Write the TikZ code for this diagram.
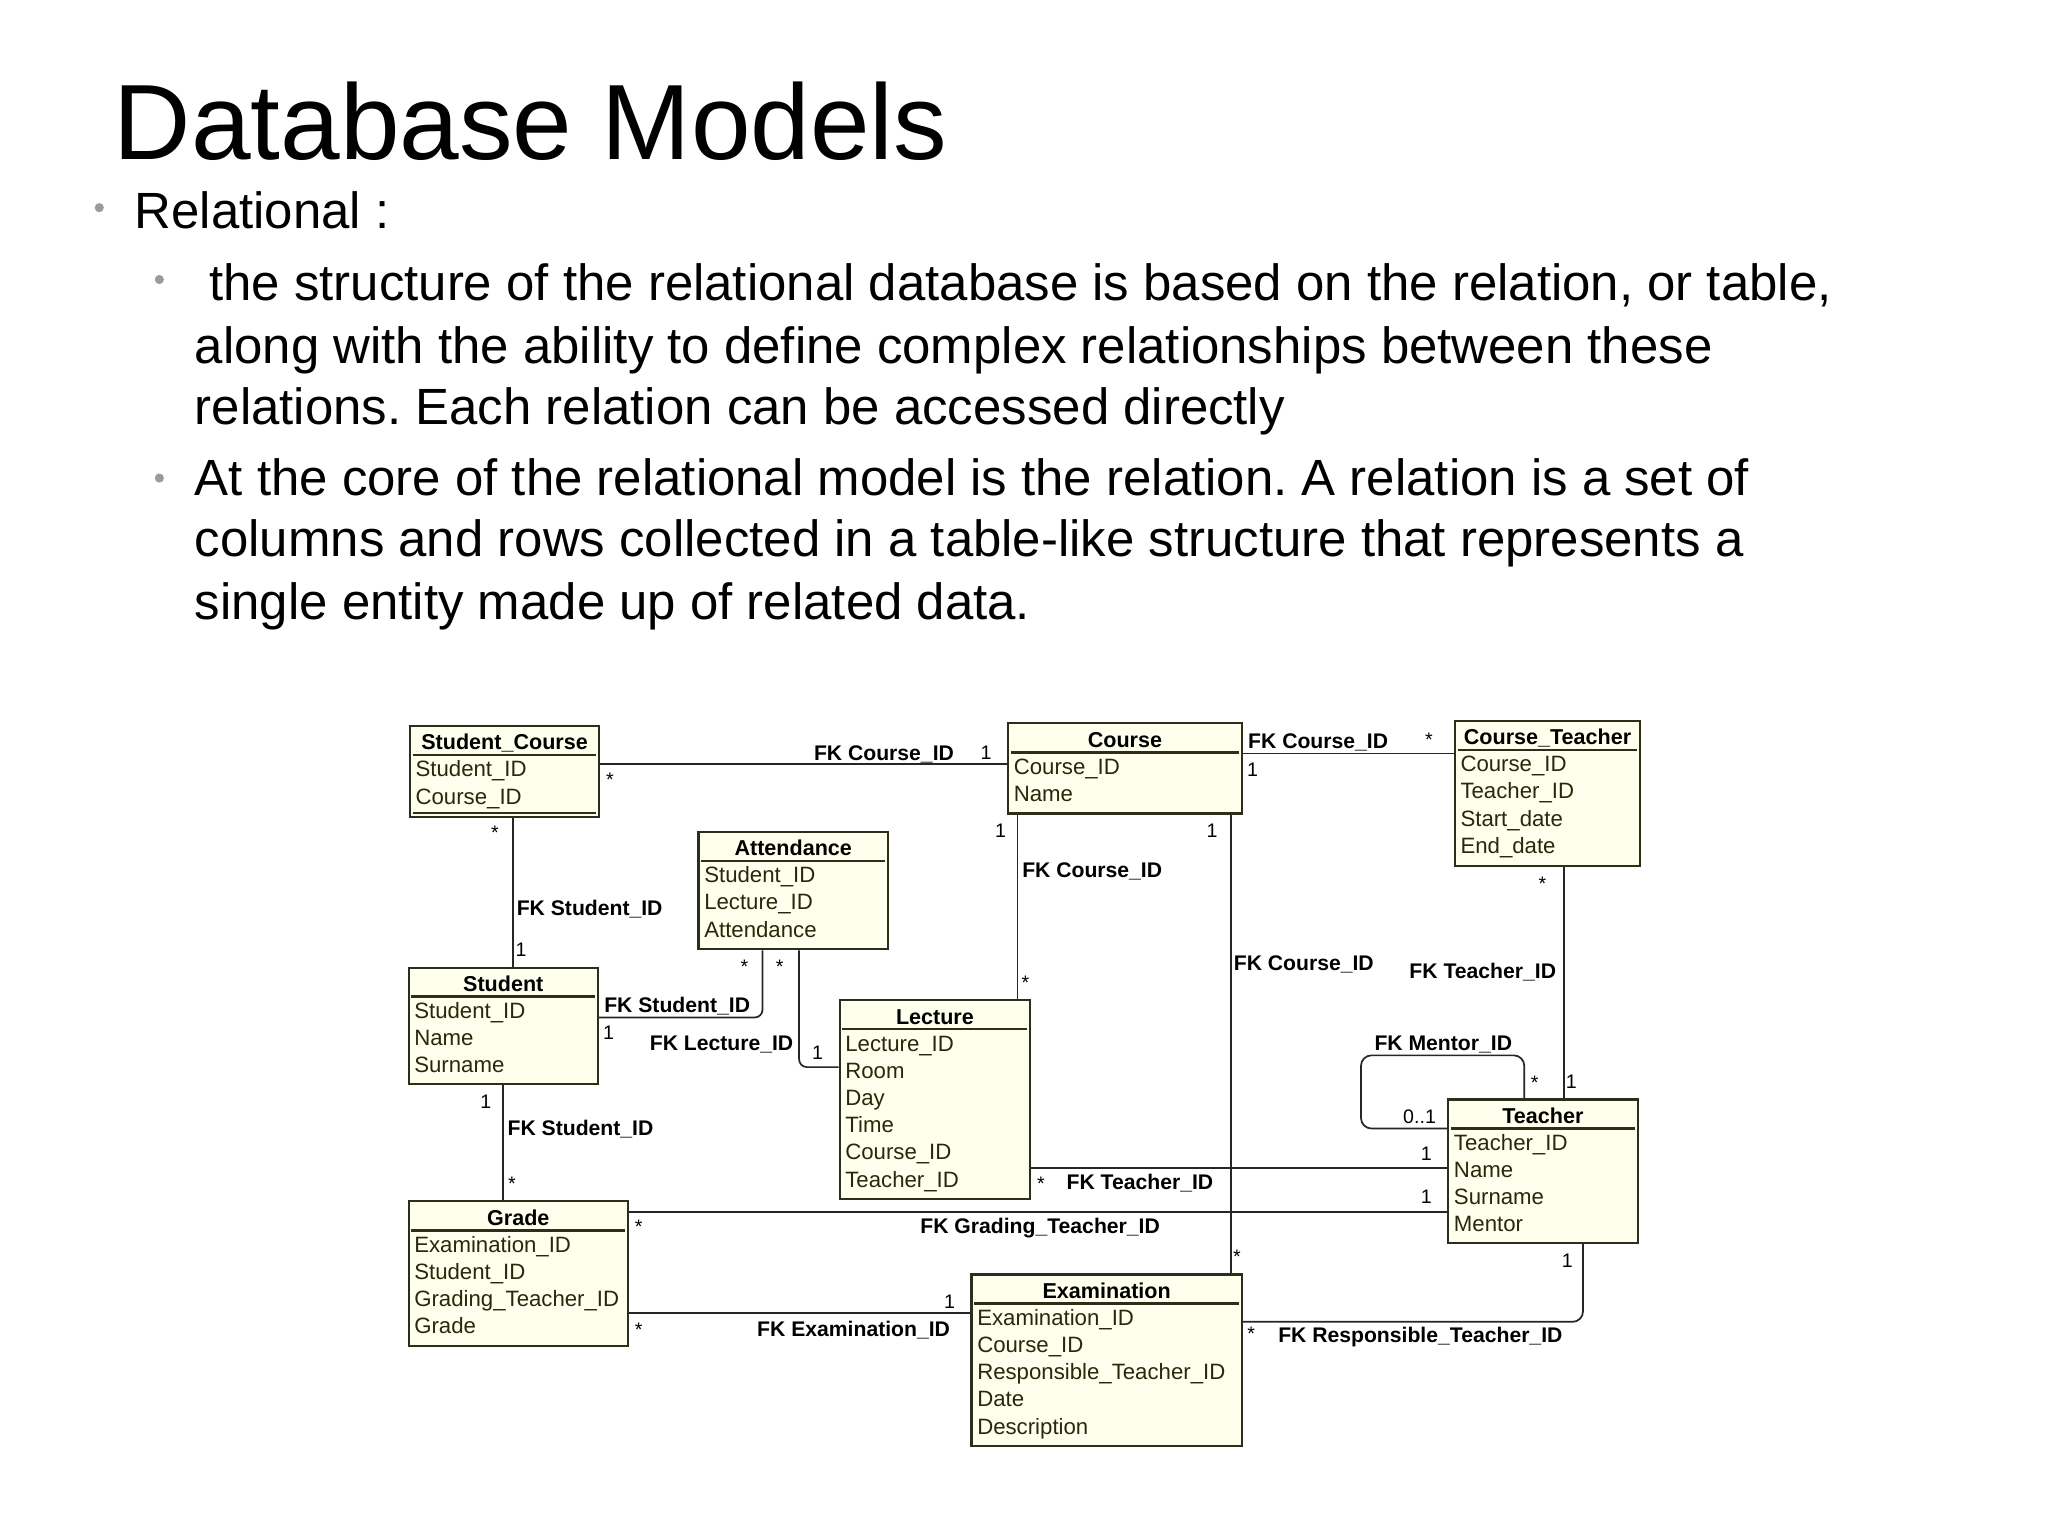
\documentclass[tikz,border=0pt]{standalone}
\usepackage{fontspec}
\setmainfont{Liberation Sans}
\usetikzlibrary{calc}
\frenchspacing

\definecolor{entfill}{RGB}{255,255,238}
\definecolor{entline}{RGB}{45,45,25}
\definecolor{enttext}{RGB}{40,40,10}
\definecolor{bulletgray}{RGB}{150,157,155}

% box with title, rule and attribute rows
\newcommand{\entity}[6]{%
  \node[entity, minimum width=#3pt, minimum height=#4pt] (#1) at (#2) {};
  \node[enttitle] (#1-t) at ($(#1.north)+(0,13)$) {#5};
  \draw[sepline] ($(#1.north west)+(3,23)$) -- ($(#1.north east)+(-3,23)$);
  \foreach \fld [count=\i] in {#6}
    \node[attr] (#1-\i) at ($(#1.north west)+(5,13+20.8*\i)$) {\fld};
}

\begin{document}
\begin{tikzpicture}[x=1pt, y=-1pt,
    entity/.style = {draw=entline, fill=entfill, line width=1.6pt, anchor=north west, inner sep=0pt},
    enttitle/.style = {font=\fontsize{16.5}{18}\selectfont\bfseries, text height=12pt, text depth=0pt, inner sep=0pt},
    attr/.style = {font=\fontsize{17}{19}\selectfont, text=enttext, anchor=west, text height=12pt, text depth=0pt, inner sep=0pt},
    sepline/.style = {draw=entline, line width=1.8pt},
    link/.style = {draw=black!85, line width=1.3pt},
    fk/.style = {font=\fontsize{16.2}{18}\selectfont\bfseries, text height=12pt, text depth=0pt, inner sep=0pt},
    mult/.style = {font=\fontsize{15}{17}\selectfont, text height=11pt, text depth=0pt, inner sep=0pt},
    manymult/.style = {mult, yshift=-3pt},
    heading/.style = {font=\fontsize{82}{90}\selectfont, anchor=base west, inner sep=0pt},
    bodytext/.style = {font=\fontsize{39}{47}\selectfont, anchor=base west, inner sep=0pt},
    dot/.style = {circle, fill=bulletgray, minimum size=7pt, inner sep=0pt}]

  \useasboundingbox[fill=white] (0,0) rectangle (1568,1176);

  % slide text
  \node[heading] (title) at (87,122) {Database Models};
  \node[dot] (d1) at (76,159) {};
  \node[bodytext] (rel) at (103,175) {Relational :};
  \node[dot] (d2) at (122,214) {};
  \node[bodytext] (p1) at (160,230) {the structure of the relational database is based on the relation, or table,};
  \node[bodytext] (p2) at (149,278) {along with the ability to define complex relationships between these};
  \node[bodytext] (p3) at (149,325) {relations. Each relation can be accessed directly};
  \node[dot] (d3) at (122,366) {};
  \node[bodytext] (p4) at (149,379) {At the core of the relational model is the relation. A relation is a set of};
  \node[bodytext] (p5) at (149,426) {columns and rows collected in a table-like structure that represents a};
  \node[bodytext] (p6) at (149,474) {single entity made up of related data.};

  % tables
  \entity{sc}{313,555}{145}{70}{Student\_Course}{Student\_ID,Course\_ID}
  \draw[sepline] ($(sc.south west)+(3,-4)$) -- ($(sc.south east)+(-3,-4)$);
  \entity{course}{771,553}{179}{69}{Course}{Course\_ID,Name}
  \entity{ct}{1113,551}{142}{111}{Course\_Teacher}{Course\_ID,Teacher\_ID,Start\_date,End\_date}
  \entity{att}{534,636}{145}{90}{Attendance}{Student\_ID,Lecture\_ID,Attendance}
  \entity{student}{312,740}{145}{89}{Student}{Student\_ID,Name,Surname}
  \entity{lecture}{642,765}{146}{152}{Lecture}{Lecture\_ID,Room,Day,Time,Course\_ID,Teacher\_ID}
  \entity{teacher}{1108,841}{145}{110}{Teacher}{Teacher\_ID,Name,Surname,Mentor}
  \entity{grade}{312,919}{168}{111}{Grade}{Examination\_ID,Student\_ID,Grading\_Teacher\_ID,Grade}
  \entity{exam}{743,975}{207}{131}{Examination}{Examination\_ID,Course\_ID,Responsible\_Teacher\_ID,Date,Description}

  % relationships
  \draw[link] ($(course.north west)+(0,32)$) -- ($(sc.north east)+(0,30)$)
    node[manymult] (m1) at (467,594) {*}
    node[fk, anchor=east] (f1) at (731,576) {FK Course\_ID}
    node[mult] (n1) at (755,576) {1};

  \coordinate (c2) at ($(course.north east)+(0,24)$);
  \draw[link] (c2) -- (c2 -| ct.west)
    node[fk, anchor=west] (f2) at (955,567) {FK Course\_ID}
    node[manymult] (m2) at (1094,563) {*}
    node[mult] (n2) at (959,589) {1};

  \coordinate (c3) at ($(sc.south)+(6.5,0)$);
  \draw[link] (c3) -- (c3 |- student.north)
    node[manymult] (m3) at (379,634) {*}
    node[fk, anchor=west] (f3) at (395,695) {FK Student\_ID}
    node[mult] (n3) at (399,727) {1};

  \draw[link, rounded corners=6pt] ($(att.south)+(-23.5,0)$) |- ($(student.north east)+(0,39)$)
    node[fk, anchor=west] (f4) at (462,769) {FK Student\_ID}
    node[mult] (n4) at (466,790) {1}
    node[manymult] (m4) at (570,737) {*};

  \draw[link, rounded corners=6pt] ($(att.south)+(4.5,0)$) |- ($(lecture.north west)+(0,52)$)
    node[manymult] (m5) at (597,737) {*}
    node[fk, anchor=east] (f5) at (608,798) {FK Lecture\_ID}
    node[mult] (n5) at (626,806) {1};

  \coordinate (c6) at ($(course.south west)+(8,0)$);
  \draw[link] (c6) -- (c6 |- lecture.north)
    node[mult] (n6) at (766,636) {1}
    node[fk, anchor=west] (f6) at (782,666) {FK Course\_ID}
    node[manymult] (m6) at (785,749) {*};

  \coordinate (c7) at ($(course.south east)+(-9,0)$);
  \draw[link] (c7) -- (c7 |- exam.north)
    node[mult] (n7) at (928,636) {1}
    node[fk, anchor=west] (f7) at (944,737) {FK Course\_ID}
    node[manymult] (m7) at (947,959) {*};

  \coordinate (c8) at ($(ct.south east)+(-59,0)$);
  \draw[link] (c8) -- (c8 |- teacher.north)
    node[manymult] (m8) at (1181,673) {*}
    node[fk, anchor=east] (f8) at (1192,743) {FK Teacher\_ID}
    node[mult] (n8) at (1203,828) {1};

  \draw[link, rounded corners=8pt] ($(teacher.north west)+(59,0)$) -- ++(0,-33)
      -| ($(teacher.north west)+(-66,23)$) -- ($(teacher.north west)+(0,23)$)
    node[fk] (f9) at (1105,798) {FK Mentor\_ID}
    node[manymult] (m9) at (1175,826) {*}
    node[mult, anchor=east] (n9) at (1100,855) {0..1};

  \coordinate (c10) at ($(lecture.north east)+(0,129)$);
  \draw[link] (c10) -- (c10 -| teacher.west)
    node[manymult] (m10) at (797,903) {*}
    node[fk, anchor=west] (f10) at (816,905) {FK Teacher\_ID}
    node[mult] (n10) at (1092,883) {1};

  \coordinate (c11) at ($(grade.north east)+(0,9)$);
  \draw[link] (c11) -- (c11 -| teacher.west)
    node[manymult] (m11) at (489,936) {*}
    node[fk, anchor=west] (f11) at (704,938) {FK Grading\_Teacher\_ID}
    node[mult] (n11) at (1092,916) {1};

  \coordinate (c12) at ($(grade.north east)+(0,86)$);
  \draw[link] (c12) -- (c12 -| exam.west)
    node[manymult] (m12) at (489,1015) {*}
    node[fk, anchor=east] (f12) at (728,1017) {FK Examination\_ID}
    node[mult] (n12) at (727,996) {1};

  \draw[link, rounded corners=8pt] ($(exam.north east)+(0,37)$) -| ($(teacher.south west)+(104,0)$)
    node[manymult] (m13) at (958,1018) {*}
    node[fk, anchor=west] (f13) at (978,1022) {FK Responsible\_Teacher\_ID}
    node[mult] (n13) at (1200,965) {1};

  \draw[link] (student.south) -- (student.south |- grade.north)
    node[mult] (n14) at (372,843) {1}
    node[fk, anchor=west] (f14) at (388,863) {FK Student\_ID}
    node[manymult] (m14) at (392,903) {*};
\end{tikzpicture}
\end{document}
